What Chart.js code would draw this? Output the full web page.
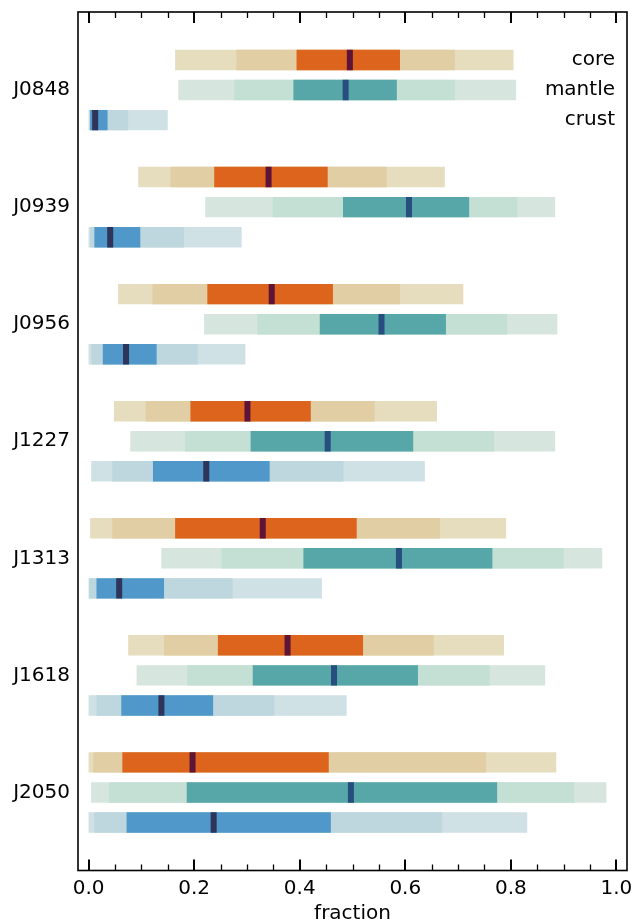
<!DOCTYPE html>
<html>
<head>
<meta charset="utf-8">
<script src="https://cdn.jsdelivr.net/npm/chart.js@4.4.1/dist/chart.umd.min.js"></script>
<style>
  html, body { margin: 0; padding: 0; background: #fff; }
  canvas { display: block; }
</style>
</head>
<body>
<canvas id="fractionChart" width="631" height="923"></canvas>
<script>
// Objects, top to bottom
const objects = ['J0848', 'J0939', 'J0956', 'J1227', 'J1313', 'J1618', 'J2050'];

// Per object: [lo3, lo2, lo1, median, hi1, hi2, hi3]
const core = [
    [0.164, 0.280, 0.394, 0.495, 0.590, 0.694, 0.805],
    [0.094, 0.155, 0.238, 0.341, 0.453, 0.565, 0.675],
    [0.056, 0.121, 0.225, 0.347, 0.463, 0.590, 0.710],
    [0.048, 0.108, 0.193, 0.301, 0.421, 0.542, 0.660],
    [0.003, 0.045, 0.164, 0.330, 0.508, 0.666, 0.791],
    [0.075, 0.143, 0.245, 0.377, 0.520, 0.654, 0.787],
    [0.000, 0.009, 0.064, 0.197, 0.455, 0.753, 0.886]
];
const mantle = [
    [0.170, 0.276, 0.388, 0.487, 0.584, 0.694, 0.810],
    [0.221, 0.349, 0.482, 0.607, 0.721, 0.812, 0.884],
    [0.219, 0.320, 0.438, 0.555, 0.677, 0.793, 0.888],
    [0.079, 0.183, 0.307, 0.453, 0.615, 0.768, 0.884],
    [0.138, 0.252, 0.407, 0.588, 0.765, 0.900, 0.973],
    [0.091, 0.187, 0.311, 0.465, 0.624, 0.760, 0.865],
    [0.005, 0.039, 0.186, 0.497, 0.774, 0.920, 0.981]
];
const crust = [
    [0.000, 0.001, 0.003, 0.0125, 0.036, 0.075, 0.150],
    [0.000, 0.003, 0.011, 0.041, 0.098, 0.181, 0.290],
    [0.000, 0.005, 0.027, 0.071, 0.129, 0.207, 0.297],
    [0.005, 0.045, 0.122, 0.223, 0.343, 0.483, 0.637],
    [0.000, 0.001, 0.015, 0.058, 0.143, 0.273, 0.442],
    [0.000, 0.015, 0.062, 0.138, 0.236, 0.352, 0.489],
    [0.000, 0.011, 0.072, 0.237, 0.459, 0.670, 0.831]
];

const xTicks = [0.0, 0.2, 0.4, 0.6, 0.8, 1.0];

// Colours: [3 sigma, 2 sigma, 1 sigma, median]
const components = [
    { name: 'core',   rows: core,   colors: ['#e6ddbe', '#e2cea4', '#dc641c', '#5e1438'] },
    { name: 'mantle', rows: mantle, colors: ['#d6e5de', '#c4dfd4', '#57a7a8', '#284e80'] },
    { name: 'crust',  rows: crust,  colors: ['#cfe1e5', '#bed7de', '#4f98c9', '#2f355a'] }
];

const MEDIAN_HALF = 0.0057;   // half width of the median marker, in fraction units
const MINOR_STEP = 0.05;

Chart.defaults.font.family = 'DejaVu Sans';
Chart.defaults.font.size = 20;
Chart.defaults.color = '#000';

// Build datasets. Chart.js paints lower `order` on top, so the
// outer band gets the highest order and the median the lowest.
function buildDatasets() {
    const sets = [];
    components.forEach(comp => {
        [[0, 6], [1, 5], [2, 4]].forEach(([lo, hi], k) => {
            sets.push({
                label: comp.name + ' ' + (3 - k) + 'sigma',
                stack: comp.name,
                order: 3 - k,
                backgroundColor: comp.colors[k],
                data: comp.rows.map((r, i) => ({ x: [r[lo], r[hi]], y: i }))
            });
        });
        sets.push({
            label: comp.name + ' median',
            stack: comp.name,
            order: 0,
            backgroundColor: comp.colors[3],
            data: comp.rows.map((r, i) => ({ x: [r[3] - MEDIAN_HALF, r[3] + MEDIAN_HALF], y: i }))
        });
    });
    return sets;
}

// Frame, inward ticks on top and bottom, and the component names
const frameAndTicks = {
    id: 'frameAndTicks',
    afterDraw(chart) {
        const { ctx, chartArea: a, scales: { x } } = chart;
        ctx.save();
        ctx.strokeStyle = '#000';

        // minor ticks
        ctx.lineWidth = 1.3;
        for (let v = 0; v <= x.max + 1e-9; v += MINOR_STEP) {
            const rounded = Math.round(v * 100) / 100;
            if (xTicks.some(t => Math.abs(t - rounded) < 1e-6)) continue;
            const px = Math.round(x.getPixelForValue(rounded)) + 0.5;
            ctx.beginPath();
            ctx.moveTo(px, a.bottom); ctx.lineTo(px, a.bottom - 6);
            ctx.moveTo(px, a.top); ctx.lineTo(px, a.top + 6);
            ctx.stroke();
        }
        // major ticks
        ctx.lineWidth = 2;
        xTicks.forEach(t => {
            const px = Math.round(x.getPixelForValue(t));
            ctx.beginPath();
            ctx.moveTo(px, a.bottom); ctx.lineTo(px, a.bottom - 11);
            ctx.moveTo(px, a.top); ctx.lineTo(px, a.top + 11);
            ctx.stroke();
        });

        ctx.lineWidth = 1.6;
        ctx.strokeRect(a.left, a.top, a.right - a.left, a.bottom - a.top);

        // component names beside the first row
        ctx.fillStyle = '#000';
        ctx.font = '20px "DejaVu Sans"';
        ctx.textAlign = 'right';
        ctx.textBaseline = 'middle';
        chart.data.datasets.forEach((ds, i) => {
            if (!ds.label.endsWith('3sigma')) return;
            const bar = chart.getDatasetMeta(i).data[0];
            ctx.fillText(ds.stack, a.right - 12, bar.y);
        });
        ctx.restore();
    }
};

function noPadding(scale) {
    scale.paddingTop = 0;
    scale.paddingBottom = 0;
    scale.paddingLeft = 0;
    scale.paddingRight = 0;
}

const ctx = document.getElementById('fractionChart').getContext('2d');
const fractionChart = new Chart(ctx, {
    type: 'bar',
    data: { datasets: buildDatasets() },
    options: {
        indexAxis: 'y',
        responsive: false,
        animation: false,
        categoryPercentage: 0.77,
        barPercentage: 0.68,
        borderWidth: 0,
        borderSkipped: false,
        layout: { padding: { top: 12, right: 4, left: 0, bottom: 0 } },
        plugins: {
            legend: { display: false },
            tooltip: { enabled: false }
        },
        scales: {
            x: {
                type: 'linear',
                stacked: false,
                min: -0.02,
                max: 1.02,
                grid: { display: false, drawTicks: false },
                border: { display: false },
                ticks: {
                    stepSize: 0.2,
                    includeBounds: false,
                    padding: 6,
                    maxRotation: 0,
                    callback: v => v.toFixed(1)
                },
                title: {
                    display: true,
                    text: 'fraction',
                    padding: { top: 0, bottom: -3 }
                },
                afterFit: scale => { scale.height = 52.5; noPadding(scale); }
            },
            y: {
                type: 'linear',
                reverse: true,
                offset: false,
                min: -0.667,
                max: 6.667,
                grid: { display: false, drawTicks: false, offset: false },
                border: { display: false },
                ticks: {
                    stepSize: 1,
                    includeBounds: false,
                    padding: 8,
                    callback: v => objects[v] || ''
                },
                afterFit: scale => { scale.width = 78; noPadding(scale); }
            }
        }
    },
    plugins: [frameAndTicks]
});
</script>
</body>
</html>
